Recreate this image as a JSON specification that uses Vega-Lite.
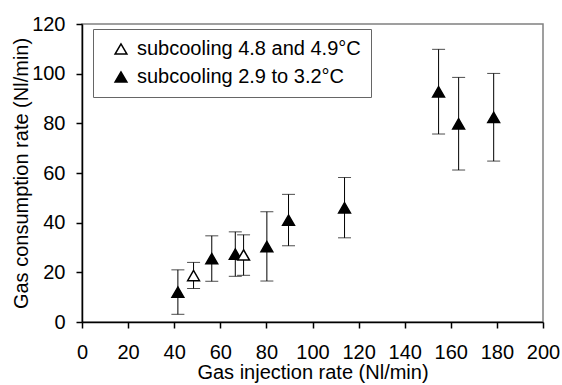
{
  "$schema": "https://vega.github.io/schema/vega-lite/v6.json",
  "width": 461,
  "height": 298,
  "autosize": {"type": "none"},
  "padding": {"left": 82, "top": 24, "right": 19, "bottom": 63},
  "background": "white",
  "config": {
    "font": "Liberation Sans",
    "view": {"stroke": "#808080", "strokeWidth": 1.5},
    "axis": {
      "grid": false,
      "domainColor": "black",
      "domainWidth": 1.5,
      "tickColor": "black",
      "tickWidth": 1.5,
      "tickSize": 6,
      "labelFontSize": 20,
      "titleFontSize": 20,
      "titleFontWeight": "normal",
      "labelColor": "black",
      "titleColor": "black",
      "labelFont": "Liberation Sans",
      "titleFont": "Liberation Sans",
      "labelOverlap": false,
      "labelFlush": false
    }
  },
  "data": {
    "values": [
      {"x": 41.6, "y": 12.0, "lo": 3.1, "hi": 21.0, "group": "subcooling 2.9 to 3.2°C"},
      {"x": 56.3, "y": 25.5, "lo": 16.4, "hi": 34.7, "group": "subcooling 2.9 to 3.2°C"},
      {"x": 66.5, "y": 27.3, "lo": 18.4, "hi": 36.3, "group": "subcooling 2.9 to 3.2°C"},
      {"x": 80.2, "y": 30.4, "lo": 16.5, "hi": 44.4, "group": "subcooling 2.9 to 3.2°C"},
      {"x": 89.6, "y": 41.0, "lo": 30.7, "hi": 51.4, "group": "subcooling 2.9 to 3.2°C"},
      {"x": 113.9, "y": 46.0, "lo": 33.9, "hi": 58.2, "group": "subcooling 2.9 to 3.2°C"},
      {"x": 154.7, "y": 92.7, "lo": 75.7, "hi": 109.8, "group": "subcooling 2.9 to 3.2°C"},
      {"x": 163.4, "y": 79.8, "lo": 61.2, "hi": 98.5, "group": "subcooling 2.9 to 3.2°C"},
      {"x": 178.6, "y": 82.4, "lo": 64.8, "hi": 100.1, "group": "subcooling 2.9 to 3.2°C"},
      {"x": 48.4, "y": 18.7, "lo": 13.5, "hi": 24.0, "group": "subcooling 4.8 and 4.9°C"},
      {"x": 70.1, "y": 27.0, "lo": 18.8, "hi": 35.1, "group": "subcooling 4.8 and 4.9°C"}
    ]
  },
  "layer": [
    {
      "mark": {"type": "rule", "color": "black", "strokeWidth": 1},
      "encoding": {
        "x": {"field": "x", "type": "quantitative", "scale": {"domain": [0, 200]},
              "axis": {"values": [0,20,40,60,80,100,120,140,160,180,200], "labelPadding": 14, "titlePadding": 0},
              "title": "Gas injection rate (Nl/min)"},
        "y": {"field": "lo", "type": "quantitative", "scale": {"domain": [0, 120]},
              "axis": {"values": [0,20,40,60,80,100,120], "labelPadding": 11, "titlePadding": 0},
              "title": "Gas consumption rate (Nl/min)"},
        "y2": {"field": "hi"}
      }
    },
    {
      "mark": {"type": "tick", "orient": "horizontal", "color": "black", "size": 13, "thickness": 1},
      "encoding": {
        "x": {"field": "x", "type": "quantitative", "title": "Gas injection rate (Nl/min)"},
        "y": {"field": "lo", "type": "quantitative", "title": "Gas consumption rate (Nl/min)"}
      }
    },
    {
      "mark": {"type": "tick", "orient": "horizontal", "color": "black", "size": 13, "thickness": 1},
      "encoding": {
        "x": {"field": "x", "type": "quantitative", "title": "Gas injection rate (Nl/min)"},
        "y": {"field": "hi", "type": "quantitative", "title": "Gas consumption rate (Nl/min)"}
      }
    },
    {
      "mark": {"type": "point", "shape": "triangle-up", "size": 140, "filled": true, "stroke": "black", "strokeWidth": 1.5, "opacity": 1},
      "encoding": {
        "x": {"field": "x", "type": "quantitative", "title": "Gas injection rate (Nl/min)"},
        "y": {"field": "y", "type": "quantitative", "title": "Gas consumption rate (Nl/min)"},
        "fill": {
          "field": "group", "type": "nominal",
          "scale": {"domain": ["subcooling 4.8 and 4.9°C", "subcooling 2.9 to 3.2°C"], "range": ["white", "black"]},
          "legend": {
            "orient": "none", "legendX": 11, "legendY": 5, "title": null,
            "symbolType": "triangle-up", "symbolSize": 140,
            "symbolStrokeColor": "black", "symbolStrokeWidth": 1.5,
            "labelFontSize": 20, "labelFont": "Liberation Sans", "labelColor": "black",
            "labelLimit": 500,
            "fillColor": "white", "strokeColor": "#666",
            "padding": 10, "rowPadding": 8, "labelOffset": 6, "symbolOffset": 8
          }
        }
      }
    }
  ]
}
